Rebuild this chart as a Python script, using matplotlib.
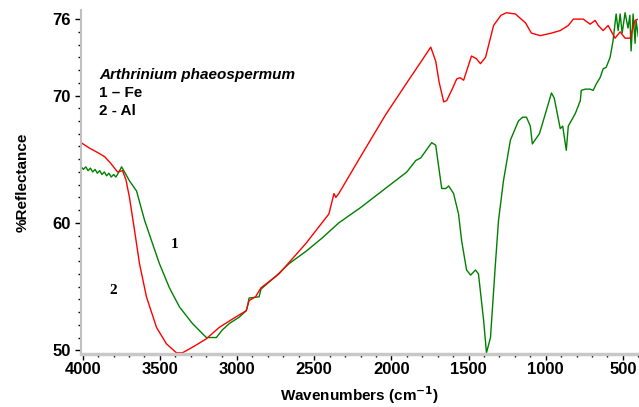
import matplotlib.pyplot as plt
from matplotlib.ticker import MultipleLocator, FixedLocator

# curve 2 - Al (red)
wn_al = [4010, 3960, 3900, 3858, 3820, 3774, 3742, 3720, 3697, 3664, 3632, 3587, 3522,
         3457, 3393, 3354, 3280, 3199, 3115, 3010, 2941, 2922, 2880, 2845, 2728, 2553,
         2405, 2372, 2360, 2341, 2200, 2037, 1900, 1800, 1745, 1713, 1690, 1661, 1642,
         1610, 1577, 1555, 1532, 1500, 1481, 1450, 1423, 1390, 1338, 1290, 1254, 1196,
         1131, 1093, 1035, 963, 906, 854, 821, 757, 712, 680, 660, 628, 596, 551, 518,
         486, 454, 421, 400]
refl_al = [66.3, 65.9, 65.5, 65.2, 64.7, 64.0, 64.1, 63.4, 62.0, 59.4, 56.8, 54.2, 51.8,
           50.5, 49.8, 49.8, 50.3, 50.9, 51.8, 52.6, 53.1, 53.9, 54.2, 54.9, 56.0, 58.4,
           60.7, 62.3, 62.0, 62.3, 65.2, 68.5, 71.0, 72.8, 73.8, 72.7, 71.0, 69.5, 69.6,
           70.4, 71.3, 71.4, 71.2, 72.4, 73.1, 72.9, 72.5, 73.0, 75.5, 76.3, 76.5, 76.4,
           75.7, 74.9, 74.7, 74.9, 75.1, 75.5, 76.0, 76.0, 75.6, 75.9, 75.5, 75.1, 75.5,
           74.5, 75.0, 74.5, 74.5, 75.9, 76.0]

# curve 1 - Fe (green)
wn_fe = [4010, 3995, 3980, 3965, 3950, 3935, 3920, 3905, 3890, 3875, 3860, 3845, 3830,
         3815, 3800, 3785, 3770, 3748, 3720, 3697, 3651, 3599, 3554, 3503, 3438, 3373,
         3289, 3199, 3134, 3095, 3050, 2986, 2941, 2935, 2922, 2857, 2845, 2750, 2663,
         2550, 2450, 2341, 2200, 2018, 1900, 1842, 1810, 1739, 1713, 1674, 1648, 1629,
         1597, 1565, 1545, 1513, 1487, 1455, 1436, 1403, 1384, 1358, 1326, 1306, 1274,
         1229, 1177, 1150, 1125, 1100, 1087, 1041, 1009, 963, 945, 906, 890, 867, 854,
         808, 776, 770, 744, 712, 693, 673, 648, 628, 609, 583, 564, 544, 531, 518, 505,
         486, 467, 455, 447, 434, 421, 415, 400]
refl_fe = [64.4, 64.2, 64.4, 64.1, 64.3, 64.0, 64.2, 63.9, 64.1, 63.8, 64.0, 63.7, 63.9,
           63.6, 63.8, 63.6, 63.9, 64.4, 63.8, 63.3, 62.5, 60.2, 58.6, 56.8, 54.9, 53.4,
           52.1, 51.0, 51.0, 51.6, 52.1, 52.6, 53.1, 53.3, 54.1, 54.2, 54.8, 55.8, 56.8,
           57.8, 58.8, 60.0, 61.2, 62.9, 64.0, 64.9, 65.1, 66.3, 66.1, 62.7, 62.7, 62.9,
           62.3, 60.7, 58.6, 56.3, 55.9, 56.3, 56.0, 52.4, 49.8, 51.0, 56.8, 60.2, 63.3,
           66.5, 68.0, 68.3, 68.3, 67.6, 66.2, 67.0, 68.3, 70.2, 69.8, 67.4, 67.6, 65.7,
           67.6, 68.6, 69.6, 70.4, 70.5, 70.5, 70.4, 70.9, 71.4, 72.1, 72.2, 73.0, 74.3,
           76.4, 75.1, 76.4, 74.9, 76.5, 75.3, 76.3, 73.5, 76.4, 74.1, 75.9, 74.6]

xmajor = [4000, 3500, 3000, 2500, 2000, 1500, 1000, 500]
ymajor = [50, 60, 70, 76]

fig = plt.figure(figsize=(6.39, 4.07), dpi=100)
ax = fig.add_axes([0.127, 0.13, 0.872, 0.845])

ax.plot(wn_fe, refl_fe, color="#008000", linewidth=1.0)
ax.plot(wn_al, refl_al, color="#ff0000", linewidth=1.0)

ax.set_xlim(4010, 400)
ax.set_ylim(49.7, 76.7)

ax.xaxis.set_major_locator(FixedLocator(xmajor))
ax.xaxis.set_minor_locator(MultipleLocator(100))
ax.yaxis.set_major_locator(FixedLocator(ymajor))
ax.yaxis.set_minor_locator(MultipleLocator(1))
ax.tick_params(which="both", direction="out", color="black", labelsize=12)
ax.tick_params(which="major", length=4, width=1)
ax.tick_params(which="minor", length=2.5, width=1)
ax.tick_params(axis="x", pad=2)
for lab in ax.get_xticklabels() + ax.get_yticklabels():
    lab.set_fontweight("bold")
    lab.set_family("Liberation Sans")

ax.spines["top"].set_visible(False)
ax.spines["right"].set_visible(False)
ax.spines["left"].set_color("#c0c0c0")
ax.spines["left"].set_linewidth(1.5)
ax.spines["bottom"].set_color("#c8c8c8")
ax.spines["bottom"].set_linewidth(2.5)

ax.set_xlabel("Wavenumbers (cm$^{\\mathbf{-1}}$)", fontsize=11, fontweight="bold",
              family="Liberation Sans", labelpad=5)
ax.set_ylabel("%Reflectance", fontsize=11, fontweight="bold", family="Liberation Sans",
              labelpad=16)

ax.text(3895, 71.6, "Arthrinium phaeospermum", fontsize=11, fontweight="bold",
        style="italic", family="Liberation Sans", va="center")
ax.text(3895, 70.2, "1 \u2013 Fe", fontsize=11, fontweight="bold",
        family="Liberation Sans", va="center")
ax.text(3895, 68.8, "2 - Al", fontsize=11, fontweight="bold",
        family="Liberation Sans", va="center")
ax.text(3406, 58.3, "1", fontsize=11, fontweight="bold", family="Liberation Serif",
        ha="center", va="center")
ax.text(3800, 54.7, "2", fontsize=11, fontweight="bold", family="Liberation Serif",
        ha="center", va="center")

fig.savefig("out.png", dpi=100)
